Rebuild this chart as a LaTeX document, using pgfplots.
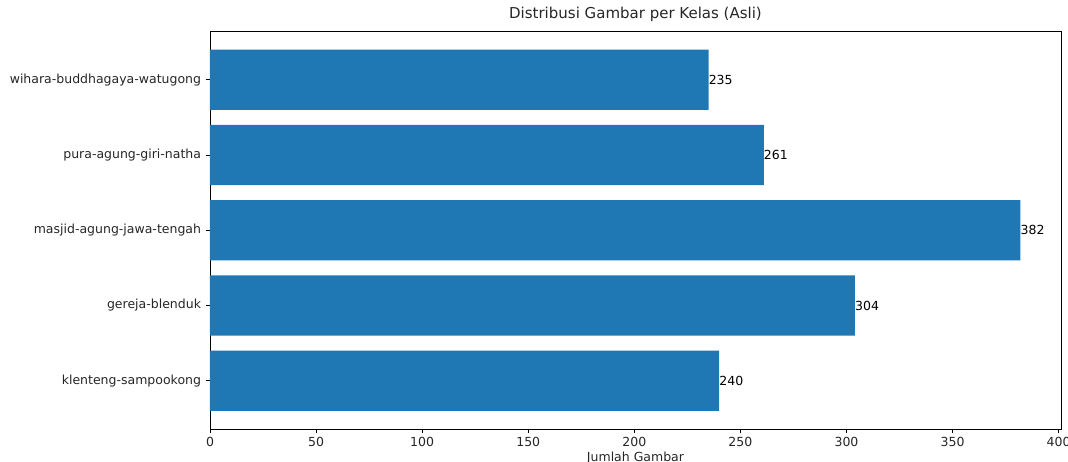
\documentclass[border=0pt]{standalone}
\usepackage{fontspec}
\setmainfont{DejaVu Sans}
\usepackage{pgfplots}
\pgfplotsset{compat=1.18}
\definecolor{mplblue}{HTML}{1F77B4}

\begin{document}
\begin{tikzpicture}
\begin{axis}[
    at={(0pt,0pt)}, anchor=south west,
    scale only axis,
    width=851pt, height=397.5pt,
    xbar, bar width=0.8, bar shift=0pt,
    xmin=0, xmax=401.1,
    ymin=-0.64, ymax=4.64,
    xtick={0,50,...,400},
    ytick={0,1,2,3,4},
    yticklabels={klenteng-sampookong,gereja-blenduk,masjid-agung-jawa-tengah,pura-agung-giri-natha,wihara-buddhagaya-watugong},
    tick align=outside,
    major tick length=4.4pt,
    tick style={black, line width=0.9pt},
    xtick pos=bottom, ytick pos=left,
    axis line style={black, line width=0.9pt},
    /pgf/number format/assume math mode=true,
    ticklabel style={font=\fontsize{12.5}{15}\selectfont, text=black!85},
    yticklabel style={inner sep=0pt, xshift=-4.4pt},
    xticklabel style={inner sep=0pt, yshift=-3.5pt},
    title={Distribusi Gambar per Kelas (Asli)},
    title style={at={(axis description cs:0.5,1)}, anchor=base, yshift=6.7pt,
        font=\fontsize{15}{18}\selectfont, text=black!85},
    xlabel={Jumlah Gambar},
    xlabel style={at={(axis description cs:0.5,0)}, anchor=base, yshift=-32pt,
        font=\fontsize{12.5}{15}\selectfont, text=black!85},
    nodes near coords,
    every node near coord/.append style={anchor=west, inner sep=0pt,
        font=\fontsize{12.5}{15}\selectfont, text=black},
]
\addplot[fill=mplblue, draw=none] coordinates {
    (240,0)
    (304,1)
    (382,2)
    (261,3)
    (235,4)};
\end{axis}
\pgfresetboundingbox
\path[use as bounding box] (-210pt,-32pt) rectangle (858pt,429pt);
\end{tikzpicture}
\end{document}
